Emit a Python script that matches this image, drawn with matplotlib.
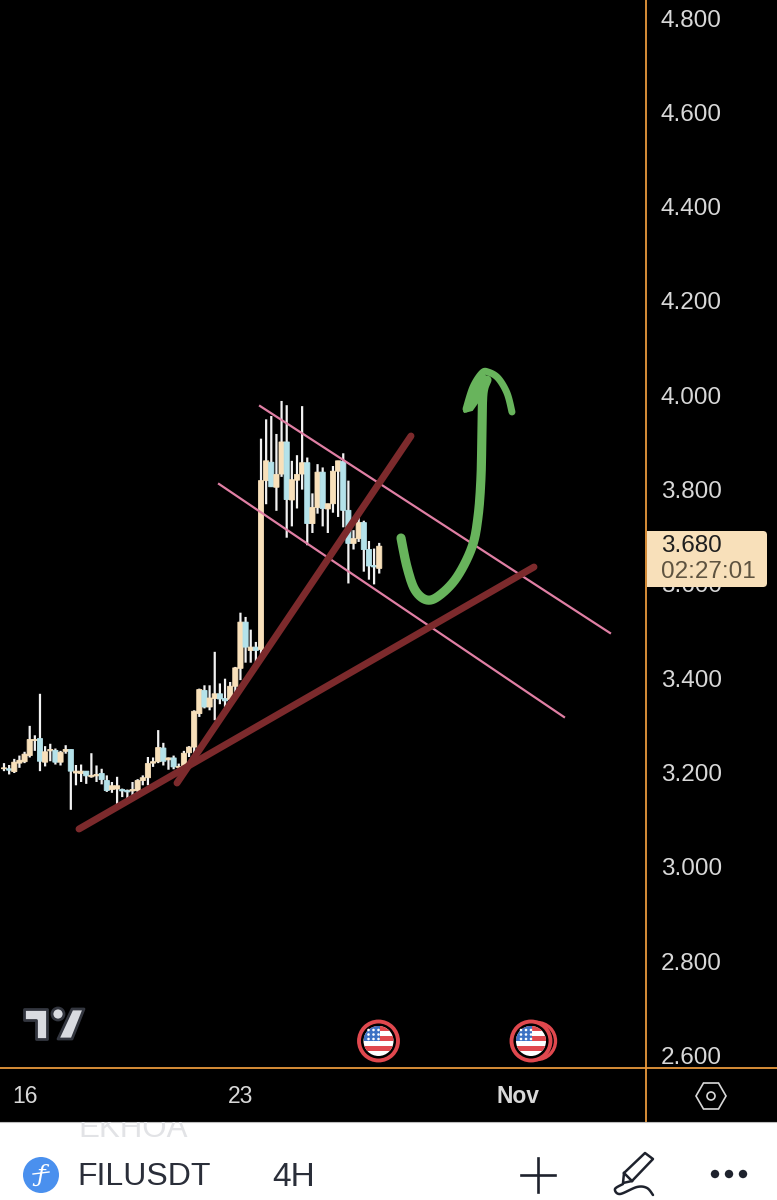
import numpy as np
import matplotlib
matplotlib.use("Agg")
import matplotlib.pyplot as plt
from matplotlib.patches import Circle, FancyBboxPatch, Polygon, Rectangle, RegularPolygon

plt.rcParams["font.family"] = ["Liberation Sans", "DejaVu Sans"]

BG = "#000000"
UP = "#f8e0ba"
DOWN = "#b4e2ea"
WICK = "#f2f2f2"
ORANGE = "#e8983c"
AXIS_TEXT = "#d8d8d8"
PINK = "#e07fa4"
TREND = "#7c2a2c"
GREEN = "#68b45c"
FLAG_RED = "#e0484e"

opens = [3.208, 3.208, 3.202, 3.220, 3.223, 3.236, 3.268, 3.272, 3.222, 3.246,
         3.247, 3.222, 3.245, 3.249, 3.199, 3.198, 3.203, 3.191, 3.193, 3.198,
         3.183, 3.164, 3.165, 3.164, 3.162, 3.161, 3.162, 3.183, 3.189, 3.220,
         3.223, 3.252, 3.227, 3.231, 3.211, 3.212, 3.242, 3.254, 3.325, 3.374,
         3.339, 3.357, 3.367, 3.357, 3.355, 3.383, 3.421, 3.519, 3.459, 3.466,
         3.461, 3.819, 3.858, 3.805, 3.833, 3.901, 3.778, 3.820, 3.833, 3.857,
         3.728, 3.762, 3.837, 3.759, 3.770, 3.839, 3.860, 3.756, 3.686, 3.696,
         3.730, 3.673, 3.639, 3.633]
closes = [3.210, 3.205, 3.222, 3.226, 3.239, 3.270, 3.270, 3.224, 3.244, 3.249,
          3.222, 3.243, 3.249, 3.203, 3.203, 3.203, 3.193, 3.194, 3.196, 3.185,
          3.162, 3.172, 3.172, 3.161, 3.159, 3.164, 3.183, 3.189, 3.219, 3.223,
          3.253, 3.224, 3.231, 3.212, 3.213, 3.241, 3.254, 3.330, 3.376, 3.339,
          3.358, 3.367, 3.356, 3.352, 3.383, 3.422, 3.519, 3.466, 3.466, 3.459,
          3.819, 3.861, 3.806, 3.832, 3.901, 3.779, 3.821, 3.832, 3.857, 3.728,
          3.762, 3.837, 3.760, 3.770, 3.839, 3.861, 3.756, 3.686, 3.696, 3.730,
          3.673, 3.638, 3.636, 3.680]
highs = [3.220, 3.216, 3.229, 3.236, 3.244, 3.299, 3.279, 3.367, 3.256, 3.261,
         3.251, 3.246, 3.258, 3.249, 3.216, 3.217, 3.203, 3.241, 3.215, 3.208,
         3.194, 3.180, 3.191, 3.166, 3.164, 3.180, 3.186, 3.194, 3.233, 3.232,
         3.290, 3.263, 3.232, 3.236, 3.219, 3.246, 3.256, 3.332, 3.378, 3.385,
         3.385, 3.456, 3.389, 3.399, 3.392, 3.424, 3.539, 3.530, 3.503, 3.477,
         3.908, 3.949, 3.956, 3.918, 3.988, 3.979, 3.861, 3.873, 3.977, 3.868,
         3.792, 3.854, 3.847, 3.770, 3.850, 3.861, 3.877, 3.819, 3.714, 3.753,
         3.734, 3.691, 3.675, 3.687]
lows = [3.203, 3.196, 3.199, 3.210, 3.220, 3.232, 3.246, 3.203, 3.213, 3.224,
        3.217, 3.215, 3.240, 3.121, 3.173, 3.180, 3.176, 3.189, 3.180, 3.175,
        3.159, 3.157, 3.131, 3.148, 3.145, 3.151, 3.154, 3.173, 3.173, 3.212,
        3.220, 3.215, 3.206, 3.207, 3.200, 3.212, 3.233, 3.234, 3.318, 3.336,
        3.332, 3.311, 3.345, 3.339, 3.350, 3.365, 3.396, 3.433, 3.433, 3.424,
        3.440, 3.769, 3.806, 3.755, 3.827, 3.698, 3.722, 3.760, 3.800, 3.682,
        3.708, 3.749, 3.722, 3.708, 3.751, 3.742, 3.720, 3.601, 3.673, 3.689,
        3.626, 3.609, 3.599, 3.622]

price_ticks = [2.6, 2.8, 3.0, 3.2, 3.4, 3.6, 3.8, 4.0, 4.2, 4.4, 4.6, 4.8]
date_tick_bars = [4, 46, 100]
date_tick_labels = ["16", "23", "Nov"]
last_price = "3.680"
countdown = "02:27:01"
symbol = "FILUSDT"
interval = "4H"


def smooth(points, n=14):
    # catmull-rom through the hand drawn stroke
    pts = np.array(points, dtype=float)
    pts = np.vstack([pts[0], pts, pts[-1]])
    out = []
    for i in range(1, len(pts) - 2):
        p0, p1, p2, p3 = pts[i - 1], pts[i], pts[i + 1], pts[i + 2]
        for t in np.linspace(0, 1, n, endpoint=False):
            out.append(0.5 * (2 * p1 + (p2 - p0) * t + (2 * p0 - 5 * p1 + 4 * p2 - p3) * t ** 2
                              + (3 * p1 - p0 - 3 * p2 + p3) * t ** 3))
    out.append(pts[-2])
    return np.array(out)


def draw_flag(ax, x, y, double=False):
    if double:
        ax.add_patch(Circle((x + 6, y), 18.5, fc=BG, ec=FLAG_RED, lw=2.4, zorder=5))
    ax.add_patch(Circle((x, y), 19.5, fc=BG, ec=FLAG_RED, lw=2.8, zorder=6))
    disc = Circle((x, y), 15, fc="white", ec="none", zorder=7)
    ax.add_patch(disc)
    for top, height in [(-15, 5), (-5, 5), (5, 5)]:
        stripe = Rectangle((x - 15, y + top), 30, height, fc=FLAG_RED, ec="none", zorder=8)
        ax.add_patch(stripe)
        stripe.set_clip_path(disc)
    canton = Rectangle((x - 15, y - 15), 16, 15, fc="#3d72c4", ec="none", zorder=9)
    ax.add_patch(canton)
    canton.set_clip_path(disc)
    for dy in (-11, -6.5, -2):
        for dx in (-10, -5, 0):
            ax.add_patch(Circle((x + dx, y + dy), 1.3, fc="white", ec="none", zorder=10))


fig = plt.figure(figsize=(7.77, 12), dpi=100, facecolor=BG)

# chart area, 646 px wide and 1068 px high
ax = fig.add_axes([0, 1 - 1068 / 1200, 646 / 777, 1068 / 1200], facecolor=BG)
bars = np.arange(len(opens))
colors = [UP if c >= o else DOWN for o, c in zip(opens, closes)]
ax.vlines(bars, lows, highs, color=WICK, lw=1.6, zorder=2, snap=False)
body = ax.bar(bars, np.array(closes) - np.array(opens), bottom=opens, width=1.0,
              color=colors, edgecolor=colors, linewidth=0.6, zorder=3)
for rect in body:
    rect.set_snap(False)
ax.set_xlim(-0.778, 124.9)
ax.set_ylim(2.5735, 4.8382)
for spine in ax.spines.values():
    spine.set_visible(False)
ax.yaxis.tick_right()
ax.set_yticks(price_ticks, [f"{p:.3f}" for p in price_ticks])
ax.tick_params(axis="y", length=0, pad=10.5, labelsize=17.5, labelcolor=AXIS_TEXT)
ax.set_xticks(date_tick_bars, date_tick_labels)
ax.tick_params(axis="x", length=0, pad=12, labelsize=16.5, labelcolor=AXIS_TEXT)
ax.get_xticklabels()[2].set_fontweight("bold")

# everything else is laid out in screen pixels
ov = fig.add_axes([0, 0, 1, 1], facecolor="none")
ov.set_xlim(0, 777)
ov.set_ylim(1200, 0)
ov.axis("off")

# hand drawn channel and trend lines
ov.plot([260, 610], [406, 633], color=PINK, lw=1.6, zorder=3)
ov.plot([219, 564], [484, 717], color=PINK, lw=1.6, zorder=3)
ov.plot([177, 411], [783, 436], color=TREND, lw=5, solid_capstyle="round", zorder=4)
ov.plot([79, 534], [829, 567], color=TREND, lw=5, solid_capstyle="round", zorder=4)

stroke = smooth([(401, 538), (407, 567), (415, 590), (427, 600), (440, 595), (457, 577),
                 (472, 547), (478, 517), (481, 477), (482, 427), (483, 393), (487, 380)])
ov.plot(stroke[:, 0], stroke[:, 1], color=GREEN, lw=6.6, solid_capstyle="round", zorder=5)
head = smooth([(466, 409), (473, 387), (482, 373), (488, 372), (498, 378), (507, 393), (512, 412)])
ov.plot(head[:, 0], head[:, 1], color=GREEN, lw=5, solid_capstyle="round", zorder=5)
ov.add_patch(Polygon([(464, 412), (472, 410), (482, 396), (488, 380), (482, 372)], fc=GREEN, ec=GREEN, lw=1.5, zorder=5))

# axis frame
ov.plot([646, 646], [0, 1122], color=ORANGE, lw=1.3, zorder=6)
ov.plot([0, 777], [1068, 1068], color=ORANGE, lw=1.3, zorder=6)

# last price tag
ov.add_patch(FancyBboxPatch((647, 531), 120, 56, boxstyle="round,pad=0,rounding_size=4", fc=UP, ec="none", zorder=7))
ov.add_patch(Rectangle((647, 531), 8, 56, fc=UP, ec="none", zorder=7))
ov.text(661, 546, last_price, fontsize=17.5, color="#1f1f1f", va="center", zorder=8)
ov.text(661, 572, countdown, fontsize=17.5, color="#5e5340", va="center", zorder=8)

# tradingview mark
mark = dict(fc="#d9dbe0", ec="#33363f", lw=2, joinstyle="round", zorder=5)
ov.add_patch(Polygon([(24, 1009), (47, 1009), (47, 1039), (36, 1039), (36, 1020), (24, 1020)], **mark))
ov.add_patch(Circle((58, 1014), 6, **mark))
ov.add_patch(Polygon([(72, 1009), (84, 1009), (72, 1039), (58, 1039)], **mark))

draw_flag(ov, 378.5, 1041)
draw_flag(ov, 531, 1041, double=True)

# settings hexagon
ov.add_patch(RegularPolygon((711, 1096), 6, radius=15, orientation=np.pi / 6, fc="none", ec=AXIS_TEXT, lw=1.2, zorder=6))
ov.add_patch(Circle((711, 1096), 4, fc="none", ec=AXIS_TEXT, lw=1.2, zorder=6))

# white toolbar under the chart
panel = Rectangle((0, 1122), 777, 78, fc="white", ec="none", zorder=6)
ov.add_patch(panel)
ov.plot([0, 777], [1122, 1122], color="#bdbdbd", lw=0.8, zorder=7)
ghost = ov.text(78, 1137, "EKHOA", fontsize=22.5, color="#e2e3e6", va="baseline", zorder=7, clip_on=True)
ghost.set_clip_path(panel)

ov.add_patch(Circle((41, 1175), 18, fc="#4a90ee", ec="none", zorder=7))
ov.text(41, 1175, "ƒ", fontsize=17, color="white", family="DejaVu Serif", style="italic",
        ha="center", va="center", zorder=8)
ov.plot([33, 49], [1174, 1172], color="white", lw=1, zorder=8)
ov.text(77, 1177, symbol, fontsize=23, color="#2a2e39", va="center", zorder=8)
ov.text(272, 1177, interval, fontsize=24, color="#2a2e39", va="center", zorder=8)

ov.plot([538, 538], [1158, 1192], color="#1e222d", lw=1.9, zorder=8)
ov.plot([521, 555], [1175, 1175], color="#1e222d", lw=1.9, zorder=8)

ov.add_patch(Polygon([(624, 1173), (645, 1153), (653, 1159), (632, 1181), (623, 1183)],
                     fc="none", ec="#1e222d", lw=1.8, joinstyle="round", zorder=8))
ov.plot([624, 632], [1173, 1181], color="#1e222d", lw=1.8, zorder=8)
squiggle = smooth([(623, 1184), (615, 1189), (620, 1194), (637, 1187), (647, 1188), (653, 1195)])
ov.plot(squiggle[:, 0], squiggle[:, 1], color="#1e222d", lw=1.8, solid_capstyle="round", zorder=8)

for dot_x in (715, 729, 743):
    ov.add_patch(Circle((dot_x, 1174), 4.2, fc="#1e222d", ec="none", zorder=8))

fig.savefig("out.png", dpi=100, facecolor=BG)
